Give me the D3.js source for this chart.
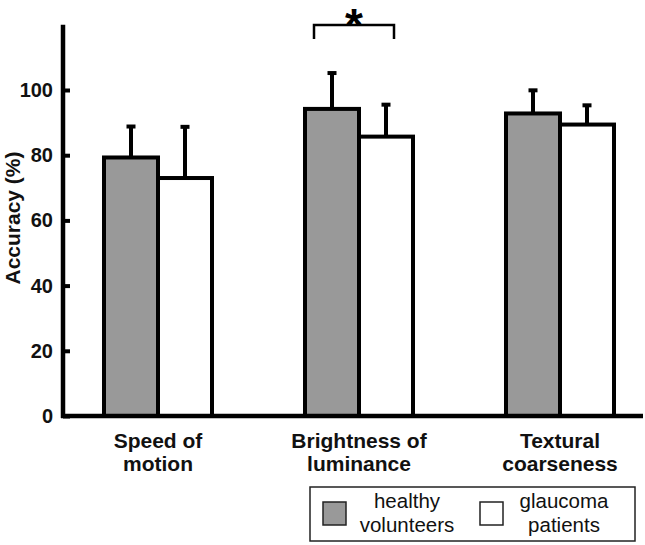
<!DOCTYPE html>
<html>
<head>
<meta charset="utf-8">
<script src="https://cdn.jsdelivr.net/npm/d3@7"></script>
<style>
  body { margin: 0; background: #fff; }
  text { font-family: Arial, "Liberation Sans", sans-serif; }
</style>
</head>
<body>
<div id="chart"></div>
<script>
// data
var categories = [["Speed of", "motion"], ["Brightness of", "luminance"], ["Textural", "coarseness"]];
var groups = ["healthy", "glaucoma"];
var healthyMean = [79.3, 94.2, 92.8];
var healthyErr = [9.5, 11, 7.1];
var glaucomaMean = [73, 85.7, 89.4];
var glaucomaErr = [15.7, 9.8, 5.9];
var yTicks = [0, 20, 40, 60, 80, 100];
var legendLabels = [["healthy", "volunteers"], ["glaucoma", "patients"]];
var fills = {healthy: "#999999", glaucoma: "#ffffff"};

var width = 645, height = 545;

var svg = d3.select("#chart").append("svg")
    .attr("width", width)
    .attr("height", height);

var y = d3.scaleLinear().domain([0, 120]).range([416, 24.8]);

var catIdx = categories.map(function(d, i) { return i; });
var x0 = d3.scalePoint().domain(catIdx).range([158, 560]);
var x1 = d3.scaleBand().domain(groups).range([-54, 54]).padding(0);

var rows = [];
catIdx.forEach(function(i) {
  rows.push({cat: i, group: "healthy", mean: healthyMean[i], err: healthyErr[i]});
  rows.push({cat: i, group: "glaucoma", mean: glaucomaMean[i], err: glaucomaErr[i]});
});

// error bars (upper only), drawn behind the bars
var eb = svg.append("g").selectAll("g").data(rows).enter().append("g");
eb.append("line")
    .attr("x1", function(d) { return x0(d.cat) + x1(d.group) + x1.bandwidth() / 2; })
    .attr("x2", function(d) { return x0(d.cat) + x1(d.group) + x1.bandwidth() / 2; })
    .attr("y1", function(d) { return y(d.mean); })
    .attr("y2", function(d) { return y(d.mean + d.err); })
    .attr("stroke", "#000").attr("stroke-width", 4);
eb.append("line")
    .attr("x1", function(d) { return x0(d.cat) + x1(d.group) + x1.bandwidth() / 2 - 4.5; })
    .attr("x2", function(d) { return x0(d.cat) + x1(d.group) + x1.bandwidth() / 2 + 4.5; })
    .attr("y1", function(d) { return y(d.mean + d.err); })
    .attr("y2", function(d) { return y(d.mean + d.err); })
    .attr("stroke", "#000").attr("stroke-width", 4);

// bars
svg.append("g").selectAll("rect").data(rows).enter().append("rect")
    .attr("x", function(d) { return x0(d.cat) + x1(d.group); })
    .attr("width", x1.bandwidth())
    .attr("y", function(d) { return y(d.mean); })
    .attr("height", function(d) { return y(0) - y(d.mean); })
    .attr("fill", function(d) { return fills[d.group]; })
    .attr("stroke", "#000")
    .attr("stroke-width", 4);

// y axis
var yAxis = svg.append("g")
    .attr("transform", "translate(63,0)")
    .call(d3.axisLeft(y).tickValues(yTicks).tickSize(-7).tickPadding(10));
yAxis.select(".domain").remove();
yAxis.selectAll(".tick line").attr("stroke", "#000").attr("stroke-width", 4);
yAxis.selectAll(".tick text")
    .attr("font-size", 20).attr("font-weight", "bold").attr("fill", "#111")
    .style("font-family", "Arial, 'Liberation Sans', sans-serif");

svg.append("line")
    .attr("x1", 63).attr("x2", 63)
    .attr("y1", y(120)).attr("y2", y(0) + 2)
    .attr("stroke", "#000").attr("stroke-width", 4.5);
svg.append("line")
    .attr("x1", 61).attr("x2", 643)
    .attr("y1", y(0)).attr("y2", y(0))
    .attr("stroke", "#000").attr("stroke-width", 4.5);

svg.append("text")
    .attr("transform", "translate(20,218) rotate(-90)")
    .attr("text-anchor", "middle")
    .attr("font-size", 21).attr("font-weight", "bold").attr("fill", "#111")
    .text("Accuracy (%)");

// category labels
var cl = svg.append("g").selectAll("text").data(catIdx).enter().append("text")
    .attr("text-anchor", "middle")
    .attr("font-size", 21).attr("font-weight", "bold").attr("fill", "#111");
cl.selectAll("tspan").data(function(i) { return categories[i].map(function(s, k) { return {s: s, k: k, c: i}; }); })
  .enter().append("tspan")
    .attr("x", function(d) { return x0(d.c); })
    .attr("y", function(d) { return 448 + d.k * 23; })
    .text(function(d) { return d.s; });

// significance bracket on brightness
var bx = x0(1);
svg.append("path")
    .attr("d", "M" + (bx - 45) + ",39V25H" + (bx + 35) + "V39")
    .attr("fill", "none").attr("stroke", "#000").attr("stroke-width", 2.5);
svg.append("text")
    .attr("x", bx - 5).attr("y", 41)
    .attr("text-anchor", "middle")
    .attr("font-size", 46).attr("font-weight", "bold")
    .text("*");

// legend
var lg = svg.append("g");
lg.append("rect")
    .attr("x", 310).attr("y", 487).attr("width", 325).attr("height", 54)
    .attr("fill", "#fff").attr("stroke", "#222").attr("stroke-width", 1.5);
var li = lg.selectAll("g").data(groups).enter().append("g")
    .attr("transform", function(d, i) { return "translate(" + (323 + i * 157) + ",0)"; });
li.append("rect")
    .attr("x", 0).attr("y", 502).attr("width", 23).attr("height", 23)
    .attr("fill", function(d) { return fills[d]; })
    .attr("stroke", "#222").attr("stroke-width", 1.5);
li.append("text")
    .attr("text-anchor", "middle")
    .attr("font-size", 20.5).attr("fill", "#111")
    .selectAll("tspan").data(function(d, i) { return legendLabels[i]; })
    .enter().append("tspan")
    .attr("x", 84).attr("y", function(d, k) { return 508 + k * 24; })
    .text(function(d) { return d; });
</script>
</body>
</html>
